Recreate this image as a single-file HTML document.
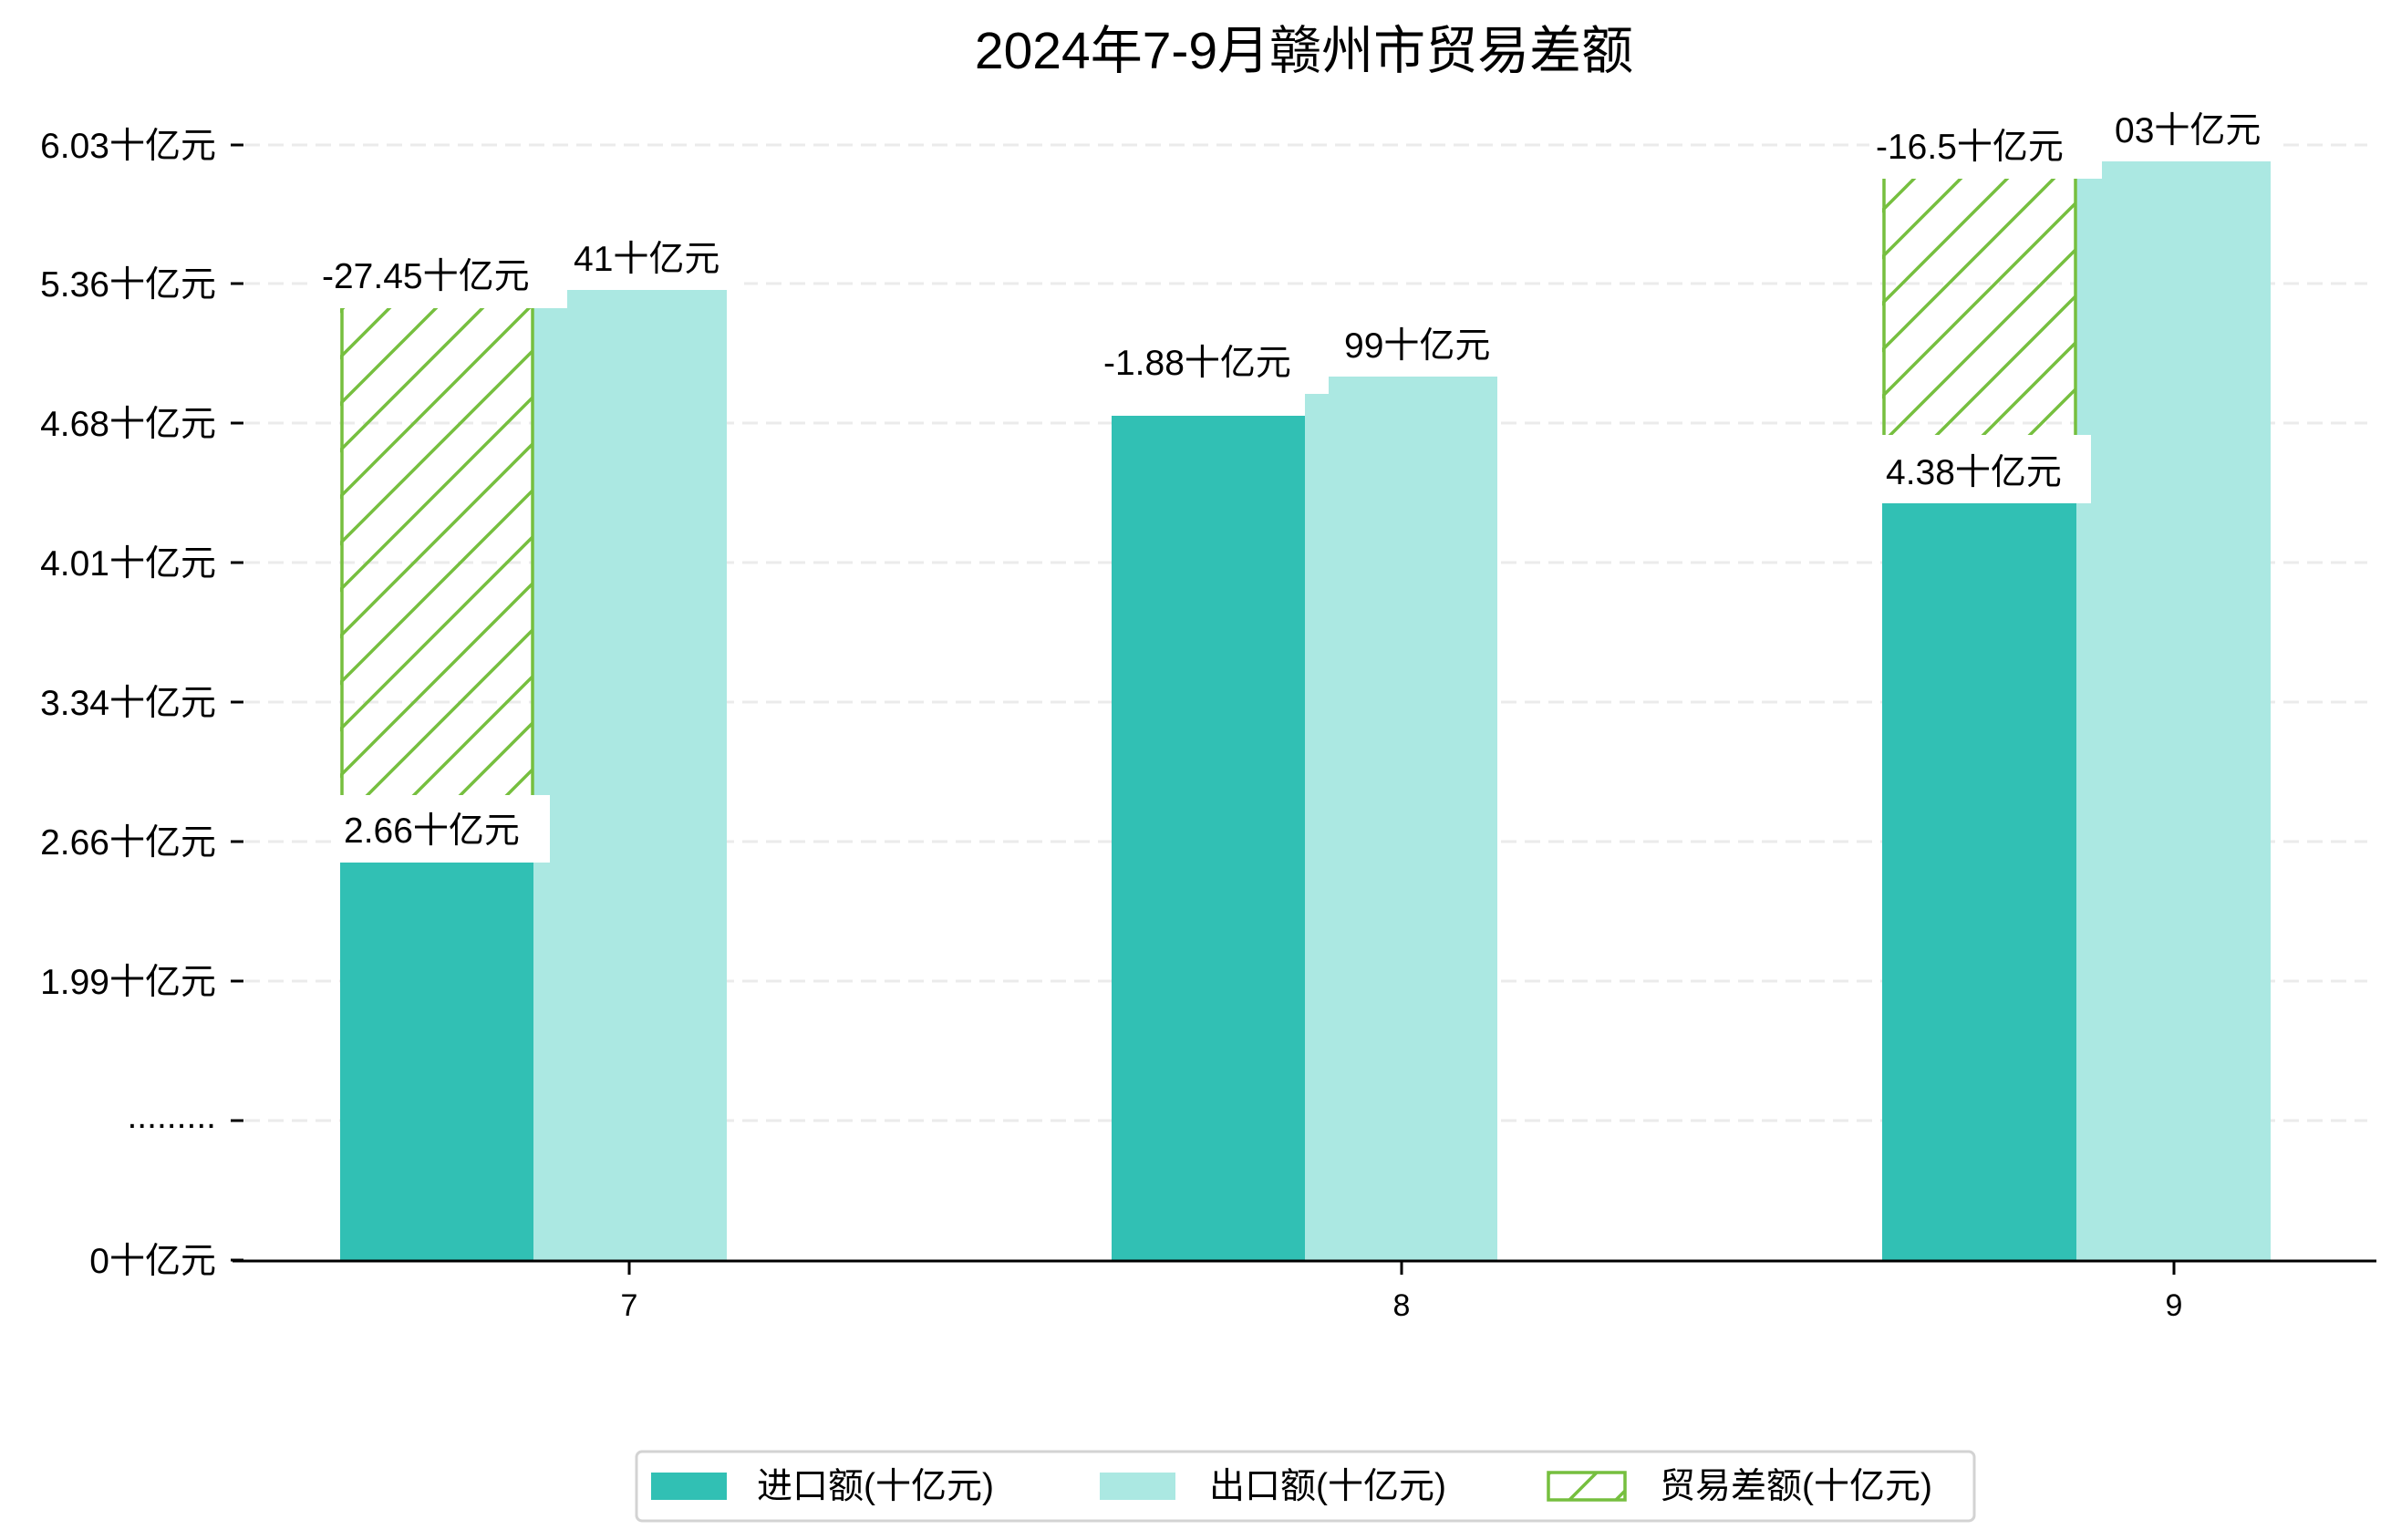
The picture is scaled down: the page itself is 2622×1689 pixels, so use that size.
<!DOCTYPE html>
<html><head><meta charset="utf-8"><style>
html,body{margin:0;padding:0;background:#fff;}
svg{display:block;}
text{font-family:"Liberation Sans","Noto Sans CJK SC",sans-serif;fill:#000;}
</style></head><body>
<svg width="2622" height="1689" viewBox="0 0 2622 1689" xmlns="http://www.w3.org/2000/svg">
<defs>
<pattern id="h" patternUnits="userSpaceOnUse" width="51" height="51">
<line x1="-5" y1="56" x2="56" y2="-5" stroke="#76bf3f" stroke-width="3.5"/>
<line x1="-30" y1="30" x2="30" y2="-30" stroke="#76bf3f" stroke-width="3.5"/>
<line x1="21" y1="81" x2="81" y2="21" stroke="#76bf3f" stroke-width="3.5"/>
</pattern>
</defs>
<rect width="2622" height="1689" fill="#fff"/>
<text x="1430" y="75" font-size="57" text-anchor="middle">2024年7-9月赣州市贸易差额</text>

<g stroke="#ebebeb" stroke-width="3" stroke-dasharray="17 9">
<line x1="268" y1="159" x2="2596" y2="159"/>
<line x1="268" y1="311" x2="2596" y2="311"/>
<line x1="268" y1="464" x2="2596" y2="464"/>
<line x1="268" y1="617" x2="2596" y2="617"/>
<line x1="268" y1="770" x2="2596" y2="770"/>
<line x1="268" y1="923" x2="2596" y2="923"/>
<line x1="268" y1="1076" x2="2596" y2="1076"/>
<line x1="268" y1="1229" x2="2596" y2="1229"/>
</g>

<g stroke="#000" stroke-width="3">
<line x1="253" y1="159" x2="267" y2="159"/>
<line x1="253" y1="311" x2="267" y2="311"/>
<line x1="253" y1="464" x2="267" y2="464"/>
<line x1="253" y1="617" x2="267" y2="617"/>
<line x1="253" y1="770" x2="267" y2="770"/>
<line x1="253" y1="923" x2="267" y2="923"/>
<line x1="253" y1="1076" x2="267" y2="1076"/>
<line x1="253" y1="1229" x2="267" y2="1229"/>
<line x1="253" y1="1382" x2="267" y2="1382"/>
</g>
<g font-size="39" text-anchor="end">
<text x="237" y="173">6.03十亿元</text>
<text x="237" y="325">5.36十亿元</text>
<text x="237" y="478">4.68十亿元</text>
<text x="237" y="631">4.01十亿元</text>
<text x="237" y="784">3.34十亿元</text>
<text x="237" y="937">2.66十亿元</text>
<text x="237" y="1090">1.99十亿元</text>
<text x="237" y="1237">.........</text>
<text x="237" y="1396">0十亿元</text>
</g>

<!-- bars -->
<rect x="373" y="946" width="212" height="436" fill="#31c0b4"/>
<rect x="585" y="318" width="212" height="1064" fill="#abe8e2"/>
<rect x="1219" y="456" width="212" height="926" fill="#31c0b4"/>
<rect x="1431" y="413" width="211" height="969" fill="#abe8e2"/>
<rect x="2064" y="552" width="213" height="830" fill="#31c0b4"/>
<rect x="2277" y="177" width="213" height="1205" fill="#abe8e2"/>

<!-- hatch -->
<g stroke="#76bf3f" stroke-width="3.5">
<rect x="373" y="318" width="212" height="628" fill="url(#h)" stroke="none"/>
<line x1="375" y1="318" x2="375" y2="946"/><line x1="584" y1="318" x2="584" y2="946"/>
<rect x="2064" y="177" width="213" height="375" fill="url(#h)" stroke="none"/>
<line x1="2066" y1="177" x2="2066" y2="552"/><line x1="2276" y1="177" x2="2276" y2="552"/>
</g>

<!-- labels -->
<g font-size="39">
<rect x="366" y="872" width="237" height="74" fill="#fff"/>
<text x="377" y="924">2.66十亿元</text>
<rect x="575" y="250" width="241" height="66" fill="#fff"/>
<text x="629" y="297">41十亿元</text>
<rect x="340" y="268" width="282" height="70" fill="#fff"/>
<text x="353" y="316">-27.45十亿元</text>

<rect x="1200" y="400" width="230" height="56" fill="#fff"/>
<rect x="1440" y="340" width="215" height="72" fill="#fff"/>
<text x="1474" y="392">99十亿元</text>
<rect x="1200" y="360" width="257" height="72" fill="#fff"/>
<text x="1210" y="411">-1.88十亿元</text>

<rect x="2060" y="477" width="233" height="75" fill="#fff"/>
<text x="2068" y="531">4.38十亿元</text>
<rect x="2300" y="110" width="200" height="64" fill="#fff"/>
<text x="2319" y="156">03十亿元</text>
<rect x="2050" y="128" width="255" height="68" fill="#fff"/>
<text x="2057" y="174">-16.5十亿元</text>
</g>

<!-- x axis -->
<line x1="255" y1="1383" x2="2606" y2="1383" stroke="#000" stroke-width="3"/>
<g stroke="#000" stroke-width="3">
<line x1="690" y1="1383" x2="690" y2="1398"/>
<line x1="1537" y1="1383" x2="1537" y2="1398"/>
<line x1="2384" y1="1383" x2="2384" y2="1398"/>
</g>
<g font-size="34" text-anchor="middle">
<text x="690" y="1443">7</text>
<text x="1537" y="1443">8</text>
<text x="2384" y="1443">9</text>
</g>

<!-- legend -->
<rect x="698" y="1592" width="1467" height="76" rx="6" fill="#fff" stroke="#d3d3d3" stroke-width="3"/>
<rect x="714" y="1615" width="83" height="30" fill="#31c0b4"/>
<text x="830" y="1643" font-size="39">进口额(十亿元)</text>
<rect x="1206" y="1615" width="83" height="30" fill="#abe8e2"/>
<text x="1326" y="1643" font-size="39">出口额(十亿元)</text>
<rect x="1698" y="1615" width="84" height="30" fill="url(#h)" stroke="#76bf3f" stroke-width="3.5"/>
<text x="1820" y="1643" font-size="39">贸易差额(十亿元)</text>
</svg>
</body></html>
